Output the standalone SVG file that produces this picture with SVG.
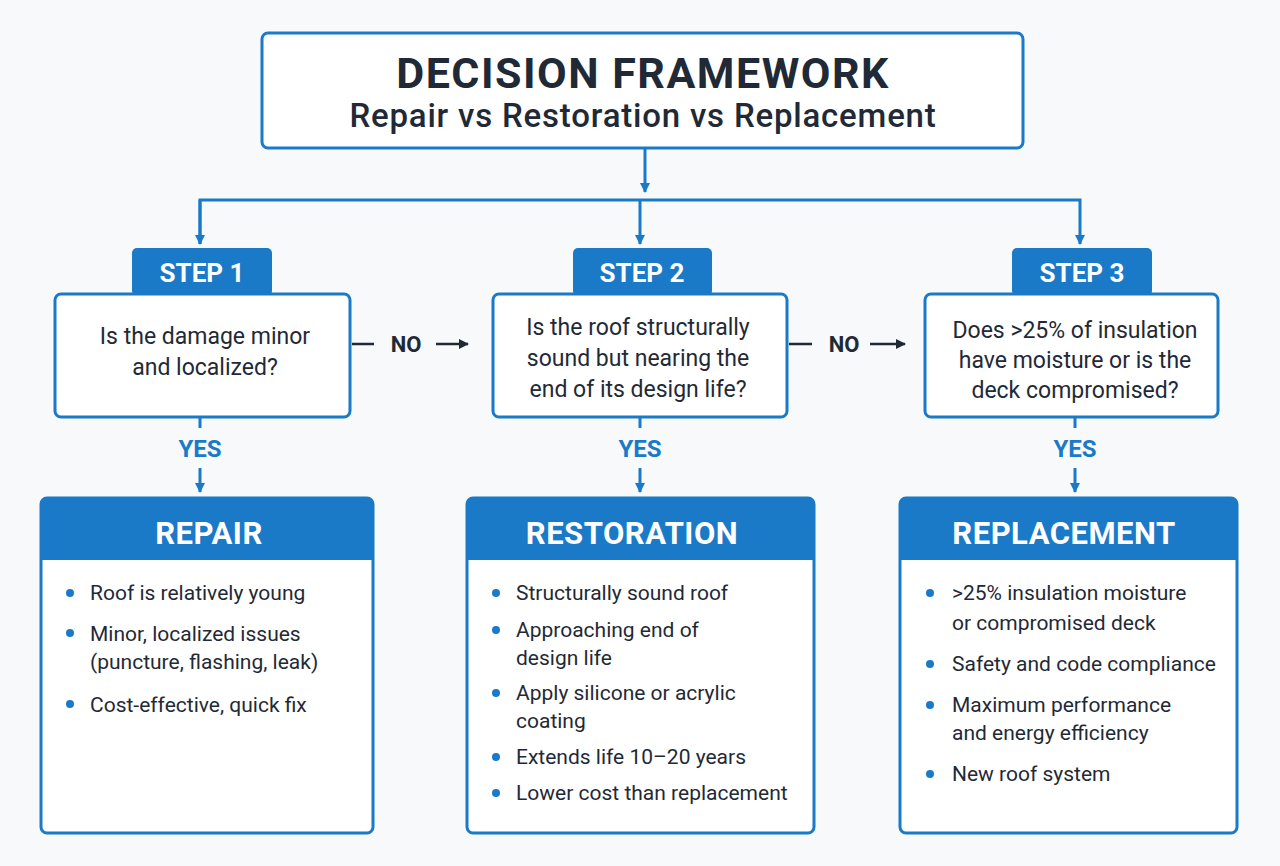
<svg xmlns="http://www.w3.org/2000/svg" width="1280" height="866" viewBox="0 0 1280 866">
<defs>
<marker id="ab" markerWidth="10" markerHeight="10" refX="9" refY="5" orient="auto" markerUnits="userSpaceOnUse" viewBox="0 0 10 10"><path d="M0,0 L10,5 L0,10 z" fill="#1a7ac8"/></marker>
<marker id="ak" markerWidth="10" markerHeight="10" refX="9" refY="5" orient="auto" markerUnits="userSpaceOnUse" viewBox="0 0 10 10"><path d="M0,0 L10,5 L0,10 z" fill="#1f2a36"/></marker>
<style>
text{font-family:Roboto,"Liberation Sans",sans-serif;}
.box{fill:#fff;stroke:#1a7ac8;stroke-width:3;}
.tab{fill:#1a7ac8;}
.tabt{fill:#fff;font-weight:bold;font-size:26px;text-anchor:middle;}
.hd{fill:#fff;font-weight:bold;font-size:31px;text-anchor:middle;letter-spacing:0.5px;}
.q{fill:#1f2a36;font-size:23px;text-anchor:middle;}
.b{fill:#1f2a36;font-size:21px;}
.dot{fill:#1a7ac8;}
.yes{fill:#1a7ac8;font-weight:bold;font-size:24px;text-anchor:middle;}
.no{fill:#1f2a36;font-weight:bold;font-size:22px;text-anchor:middle;}
.ln{stroke:#1a7ac8;stroke-width:3;fill:none;}
.lk{stroke:#1f2a36;stroke-width:2.5;fill:none;}
</style>
</defs>
<rect width="1280" height="866" fill="#f7f9fb"/>
<g id="title">
<rect class="box" x="262" y="33" width="761" height="115" rx="6"/>
<text x="643" y="88" text-anchor="middle" font-size="43" font-weight="bold" letter-spacing="1.5" fill="#1f2a36">DECISION FRAMEWORK</text>
<text x="643" y="127" text-anchor="middle" font-size="33" font-weight="500" letter-spacing="0.8" fill="#1f2a36">Repair vs Restoration vs Replacement</text>
</g>
<g id="connectors">
<path class="ln" d="M645,148 V192" marker-end="url(#ab)"/>
<path class="ln" d="M200,244 V200 H1080 V244" marker-end="url(#ab)"/>
<path class="ln" d="M200,200 V244" marker-end="url(#ab)"/>
<path class="ln" d="M640,200 V244" marker-end="url(#ab)"/>
<path class="lk" d="M352,344 H374"/>
<path class="lk" d="M436,344 H468" marker-end="url(#ak)"/>
<text class="no" x="406" y="352">NO</text>
<path class="lk" d="M789,344 H812"/>
<path class="lk" d="M870,344 H905" marker-end="url(#ak)"/>
<text class="no" x="844" y="352">NO</text>
<path class="ln" d="M200,417 V428 M640,417 V428 M1075,417 V428"/>
<text class="yes" x="200" y="457">YES</text>
<text class="yes" x="640" y="457">YES</text>
<text class="yes" x="1075" y="457">YES</text>
<path class="ln" d="M200,468 V492" marker-end="url(#ab)"/>
<path class="ln" d="M640,468 V492" marker-end="url(#ab)"/>
<path class="ln" d="M1075,468 V492" marker-end="url(#ab)"/>
</g>
<g id="step1">
<rect class="tab" x="132" y="248" width="140" height="48" rx="5"/>
<text class="tabt" x="202" y="282">STEP 1</text>
<rect class="box" x="55" y="294" width="295" height="123" rx="6"/>
<text class="q" x="205" y="344">Is the damage minor</text>
<text class="q" x="205" y="375">and localized?</text>
</g>
<g id="step2">
<rect class="tab" x="573" y="248" width="139" height="48" rx="5"/>
<text class="tabt" x="642" y="282">STEP 2</text>
<rect class="box" x="493" y="294" width="294" height="123" rx="6"/>
<text class="q" x="638" y="335">Is the roof structurally</text>
<text class="q" x="638" y="366">sound but nearing the</text>
<text class="q" x="638" y="397">end of its design life?</text>
</g>
<g id="step3">
<rect class="tab" x="1012" y="248" width="140" height="48" rx="5"/>
<text class="tabt" x="1082" y="282">STEP 3</text>
<rect class="box" x="925" y="294" width="293" height="123" rx="6"/>
<text class="q" x="1075" y="338">Does &gt;25% of insulation</text>
<text class="q" x="1075" y="368">have moisture or is the</text>
<text class="q" x="1075" y="398">deck compromised?</text>
</g>
<g id="repair">
<rect class="box" x="41" y="498" width="332" height="335" rx="6"/>
<path class="tab" d="M41,504 a6,6 0 0 1 6,-6 H367 a6,6 0 0 1 6,6 V560 H41 z"/>
<text class="hd" x="209" y="544">REPAIR</text>
<circle class="dot" cx="70" cy="593" r="4"/><text class="b" x="90" y="600">Roof is relatively young</text>
<circle class="dot" cx="70" cy="633" r="4"/><text class="b" x="90" y="641">Minor, localized issues</text>
<text class="b" x="90" y="669">(puncture, flashing, leak)</text>
<circle class="dot" cx="70" cy="704" r="4"/><text class="b" x="90" y="712">Cost-effective, quick fix</text>
</g>
<g id="restoration">
<rect class="box" x="467" y="498" width="347" height="335" rx="6"/>
<path class="tab" d="M467,504 a6,6 0 0 1 6,-6 H808 a6,6 0 0 1 6,6 V560 H467 z"/>
<text class="hd" x="632" y="544">RESTORATION</text>
<circle class="dot" cx="496" cy="593" r="4"/><text class="b" x="516" y="600">Structurally sound roof</text>
<circle class="dot" cx="496" cy="630" r="4"/><text class="b" x="516" y="637">Approaching end of</text>
<text class="b" x="516" y="665">design life</text>
<circle class="dot" cx="496" cy="693" r="4"/><text class="b" x="516" y="700">Apply silicone or acrylic</text>
<text class="b" x="516" y="728">coating</text>
<circle class="dot" cx="496" cy="757" r="4"/><text class="b" x="516" y="764">Extends life 10–20 years</text>
<circle class="dot" cx="496" cy="793" r="4"/><text class="b" x="516" y="800">Lower cost than replacement</text>
</g>
<g id="replacement">
<rect class="box" x="900" y="498" width="337" height="335" rx="6"/>
<path class="tab" d="M900,504 a6,6 0 0 1 6,-6 H1231 a6,6 0 0 1 6,6 V560 H900 z"/>
<text class="hd" x="1064" y="544">REPLACEMENT</text>
<circle class="dot" cx="930" cy="593" r="4"/><text class="b" x="952" y="600">&gt;25% insulation moisture</text>
<text class="b" x="952" y="630">or compromised deck</text>
<circle class="dot" cx="930" cy="664" r="4"/><text class="b" x="952" y="671">Safety and code compliance</text>
<circle class="dot" cx="930" cy="705" r="4"/><text class="b" x="952" y="712">Maximum performance</text>
<text class="b" x="952" y="740">and energy efficiency</text>
<circle class="dot" cx="930" cy="774" r="4"/><text class="b" x="952" y="781">New roof system</text>
</g>
</svg>
